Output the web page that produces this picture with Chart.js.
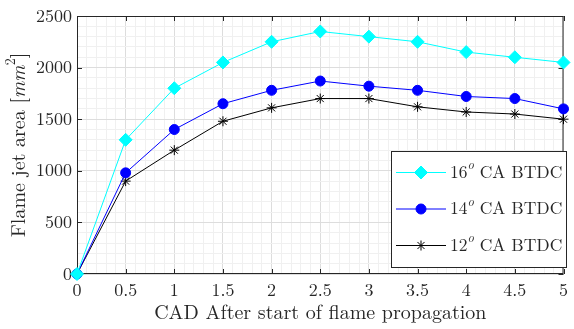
<!DOCTYPE html>
<html>
<head>
<meta charset="utf-8">
<script src="https://cdn.jsdelivr.net/npm/chart.js@4.4.1/dist/chart.umd.min.js"></script>
<style>
    html, body { margin: 0; padding: 0; background: #ffffff; }
    #wrap { width: 574px; height: 329px; position: relative; }
</style>
</head>
<body>
<div id="wrap"><canvas id="chart"></canvas></div>
<script>
// dados
const cad = [0, 0.5, 1, 1.5, 2, 2.5, 3, 3.5, 4, 4.5, 5];
const area16 = [0, 1300, 1800, 2050, 2250, 2350, 2300, 2250, 2150, 2100, 2050];
const area14 = [0, 980, 1400, 1650, 1780, 1870, 1820, 1780, 1720, 1700, 1600];
const area12 = [0, 900, 1200, 1480, 1610, 1700, 1700, 1620, 1570, 1550, 1500];
const seriesNames = ['16', '14', '12'];
const xTickLabels = [0, 0.5, 1, 1.5, 2, 2.5, 3, 3.5, 4, 4.5, 5];
const yTickLabels = [0, 500, 1000, 1500, 2000, 2500];

const serif = '"Latin Modern Roman", "Liberation Serif", serif';
const axisColor = '#262626';

function isMajor(v, step) {
    const r = v / step;
    return Math.abs(r - Math.round(r)) < 1e-6;
}

function toPoints(values) {
    return cad.map((x, i) => ({ x: x, y: values[i] }));
}

// caixa, marcas internas, legenda e titulo do eixo y
const boxPlugin = {
    id: 'boxPlugin',
    beforeDatasetsDraw(chart) {
        const ctx = chart.ctx;
        const a = chart.chartArea;
        const xs = chart.scales.x, ys = chart.scales.y;
        ctx.save();
        ctx.strokeStyle = axisColor;
        ctx.lineWidth = 1;
        ctx.strokeRect(a.left + 0.5, a.top + 0.5, a.right - a.left - 1, a.bottom - a.top - 1);
        ctx.beginPath();
        xTickLabels.forEach(v => {
            const px = Math.round(xs.getPixelForValue(v)) + 0.5;
            ctx.moveTo(px, a.bottom); ctx.lineTo(px, a.bottom - 5);
            ctx.moveTo(px, a.top); ctx.lineTo(px, a.top + 5);
        });
        yTickLabels.forEach(v => {
            const py = Math.round(ys.getPixelForValue(v)) + 0.5;
            ctx.moveTo(a.left, py); ctx.lineTo(a.left + 5, py);
            ctx.moveTo(a.right, py); ctx.lineTo(a.right - 5, py);
        });
        ctx.stroke();
        ctx.restore();
    },
    afterDraw(chart) {
        const ctx = chart.ctx;
        const a = chart.chartArea;
        ctx.save();

        // titulo do eixo y com mm em italico
        ctx.translate(19, (a.top + a.bottom) / 2);
        ctx.rotate(-Math.PI / 2);
        ctx.fillStyle = axisColor;
        ctx.textBaseline = 'middle';
        const parts = [
            { t: 'Flame jet area [', f: '20px ' + serif, dy: 0 },
            { t: 'mm', f: 'italic 20px ' + serif, dy: 0 },
            { t: '2', f: '14px ' + serif, dy: -8 },
            { t: ']', f: '20px ' + serif, dy: 0 }
        ];
        let total = 0;
        parts.forEach(p => { ctx.font = p.f; p.w = ctx.measureText(p.t).width; total += p.w; });
        let cx = -total / 2;
        parts.forEach(p => {
            ctx.font = p.f;
            ctx.fillText(p.t, cx, p.dy);
            cx += p.w;
        });
        ctx.restore();

        // legenda dentro do grafico
        ctx.save();
        const lx = 391, ly = 151, lw = 175, lh = 116;
        ctx.fillStyle = '#ffffff';
        ctx.fillRect(lx, ly, lw, lh);
        ctx.strokeStyle = axisColor;
        ctx.lineWidth = 1;
        ctx.strokeRect(lx + 0.5, ly + 0.5, lw, lh);
        const rows = [172.5, 209, 245.5];
        chart.data.datasets.forEach((ds, i) => {
            const y = rows[i];
            ctx.strokeStyle = ds.borderColor;
            ctx.lineWidth = 1;
            ctx.beginPath();
            ctx.moveTo(396, y); ctx.lineTo(446, y);
            ctx.stroke();

            ctx.save();
            ctx.fillStyle = ds.pointBackgroundColor;
            ctx.strokeStyle = ds.pointBorderColor;
            ctx.lineWidth = ds.pointBorderWidth || 1;
            Chart.helpers.drawPoint(ctx, {
                pointStyle: ds.pointStyle,
                radius: ds.pointRadius,
                rotation: 0,
                borderWidth: ds.pointBorderWidth || 1
            }, 421, y);
            ctx.restore();

            ctx.fillStyle = axisColor;
            ctx.textBaseline = 'middle';
            ctx.font = '17.5px ' + serif;
            let tx = 450;
            ctx.fillText(seriesNames[i], tx, y);
            tx += ctx.measureText(seriesNames[i]).width;
            ctx.font = 'italic 12.5px ' + serif;
            ctx.fillText('o', tx, y - 7);
            tx += ctx.measureText('o').width;
            ctx.font = '17.5px ' + serif;
            ctx.fillText(' CA BTDC', tx, y);
        });
        ctx.restore();
    }
};

const chart = new Chart(document.getElementById('chart'), {
    type: 'line',
    data: {
        datasets: [
            {
                label: '16o CA BTDC',
                data: toPoints(area16),
                borderColor: '#00ffff',
                backgroundColor: '#00ffff',
                pointBackgroundColor: '#00ffff',
                pointBorderColor: '#00ffff',
                pointStyle: 'rectRot',
                pointRadius: 6.5,
                pointBorderWidth: 1,
                borderWidth: 1,
                tension: 0
            },
            {
                label: '14o CA BTDC',
                data: toPoints(area14),
                borderColor: '#0000ff',
                backgroundColor: '#0000ff',
                pointBackgroundColor: '#0000ff',
                pointBorderColor: '#0000ff',
                pointStyle: 'circle',
                pointRadius: 5,
                pointBorderWidth: 1,
                borderWidth: 1,
                tension: 0
            },
            {
                label: '12o CA BTDC',
                data: toPoints(area12),
                borderColor: '#000000',
                backgroundColor: '#000000',
                pointBackgroundColor: '#000000',
                pointBorderColor: '#000000',
                pointStyle: 'star',
                pointRadius: 5,
                pointBorderWidth: 1,
                borderWidth: 1,
                tension: 0
            }
        ]
    },
    options: {
        responsive: true,
        maintainAspectRatio: false,
        animation: false,
        clip: false,
        layout: { padding: { top: 16, right: 5, left: 0, bottom: 0 } },
        plugins: {
            legend: { display: false },
            tooltip: { enabled: false }
        },
        scales: {
            x: {
                type: 'linear',
                min: 0,
                max: 5,
                afterFit: s => { s.height = 55; },
                ticks: {
                    stepSize: 0.1,
                    autoSkip: false,
                    maxRotation: 0,
                    padding: 6,
                    color: axisColor,
                    font: { family: serif, size: 18 },
                    callback: v => isMajor(v, 0.5) ? String(Math.round(v * 10) / 10) : ''
                },
                grid: {
                    drawTicks: false,
                    color: c => isMajor(c.tick.value, 0.5) ? '#dddddd' : '#f0f0f0'
                },
                border: { display: false },
                title: {
                    display: true,
                    text: 'CAD After start of flame propagation',
                    color: axisColor,
                    font: { family: serif, size: 20 },
                    padding: { top: 0, bottom: 4 }
                }
            },
            y: {
                min: 0,
                max: 2500,
                afterFit: s => { s.width = 77; },
                ticks: {
                    stepSize: 100,
                    autoSkip: false,
                    padding: 5,
                    color: axisColor,
                    font: { family: serif, size: 18 },
                    callback: v => isMajor(v, 500) ? String(v) : ''
                },
                grid: {
                    drawTicks: false,
                    color: c => isMajor(c.tick.value, 500) ? '#dddddd' : '#f0f0f0'
                },
                border: { display: false }
            }
        }
    },
    plugins: [boxPlugin]
});
</script>
</body>
</html>
